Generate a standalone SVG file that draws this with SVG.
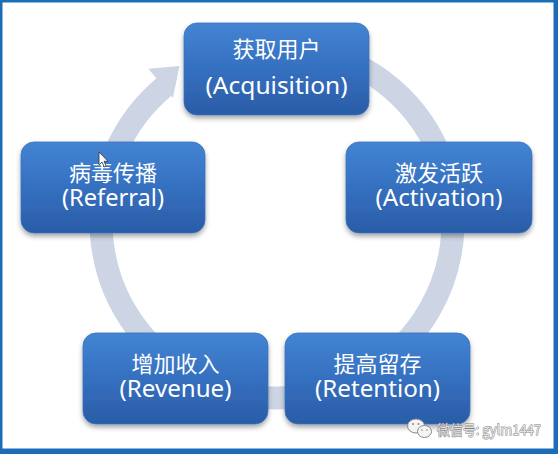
<svg xmlns="http://www.w3.org/2000/svg" width="558" height="454" viewBox="0 0 558 454">
  <defs>
    <linearGradient id="boxGrad" x1="0" y1="0" x2="0" y2="1">
      <stop offset="0" stop-color="#4384d3"/>
      <stop offset="0.5" stop-color="#3570c0"/>
      <stop offset="1" stop-color="#2a5ca6"/>
    </linearGradient>
    <filter id="shadow" x="-10%" y="-10%" width="120%" height="130%">
      <feDropShadow dx="0" dy="3" stdDeviation="2.5" flood-color="#000" flood-opacity="0.35"/>
    </filter>
  </defs>
  <style>
    .box { fill: url(#boxGrad); stroke: #3a72bd; stroke-width: 0.8; filter: url(#shadow); }
    .zh { font-family: "Noto Sans CJK SC", "Noto Sans", sans-serif; font-size: 22px; fill: #ffffff; text-anchor: middle; }
    .en { font-family: "Noto Sans", "Open Sans", "Noto Sans CJK SC", sans-serif; font-size: 23px; fill: #ffffff; text-anchor: middle; }
    .ring { fill: none; stroke: #cdd5e4; stroke-width: 23; }
    .head { fill: #cdd5e4; }
    .wm { font-family: "Noto Sans CJK SC", sans-serif; font-size: 14px; fill: #e6e6e6; stroke: #7d7d7d; stroke-width: 0.9; paint-order: stroke; }
  </style>

  <!-- frame -->
  <rect x="0" y="0" width="558" height="454" fill="#1c6cb8"/>
  <rect x="2.5" y="2.5" width="551" height="446" fill="#ffffff"/>

  <!-- connectors: circular arrow -->
  <g id="connectors">
    <path class="ring" d="M 216.8 56.6 A 176 176 0 1 1 165.05 86.2"/>
    <polygon class="head" points="148.4,68.8 179.5,66 172.9,97.9"/>
  </g>

  <g id="node-acquisition">
    <rect class="box" x="184" y="23" width="185" height="92" rx="13"/>
    <text class="zh" x="276.5" y="57">获取用户</text>
    <text class="en" x="276.5" y="94" textLength="142" lengthAdjust="spacingAndGlyphs">(Acquisition)</text>
  </g>

  <g id="node-activation">
    <rect class="box" x="346" y="142" width="186" height="91" rx="13"/>
    <text class="zh" x="439" y="181">激发活跃</text>
    <text class="en" x="439" y="206" textLength="127" lengthAdjust="spacingAndGlyphs">(Activation)</text>
  </g>

  <g id="node-retention">
    <rect class="box" x="285" y="333" width="185" height="91" rx="13"/>
    <text class="zh" x="377.5" y="372">提高留存</text>
    <text class="en" x="377.5" y="397" textLength="125" lengthAdjust="spacingAndGlyphs">(Retention)</text>
  </g>

  <g id="node-revenue">
    <rect class="box" x="83" y="333" width="185" height="91" rx="13"/>
    <text class="zh" x="175.5" y="372">增加收入</text>
    <text class="en" x="175.5" y="397" textLength="112" lengthAdjust="spacingAndGlyphs">(Revenue)</text>
  </g>

  <g id="node-referral">
    <rect class="box" x="21" y="142" width="184" height="91" rx="13"/>
    <text class="zh" x="113" y="181">病毒传播</text>
    <text class="en" x="113" y="206" textLength="102" lengthAdjust="spacingAndGlyphs">(Referral)</text>
  </g>

  <!-- mouse cursor -->
  <path d="M 99 152 L 99 165 L 102 162 L 104.3 167 L 106.2 166.1 L 104 161.3 L 108 161.3 Z" fill="#ffffff" stroke="#333333" stroke-width="0.8" stroke-linejoin="round"/>

  <!-- watermark -->
  <g id="watermark">
    <ellipse cx="416" cy="426" rx="8.5" ry="7" fill="#f4f4f4" stroke="#8a8a8a" stroke-width="1"/>
    <ellipse cx="424.5" cy="431.5" rx="7" ry="6" fill="#f4f4f4" stroke="#8a8a8a" stroke-width="1"/>
    <circle cx="413" cy="424" r="1" fill="#8a8a8a"/>
    <circle cx="418.5" cy="424" r="1" fill="#8a8a8a"/>
    <circle cx="422" cy="430" r="0.8" fill="#8a8a8a"/>
    <circle cx="427" cy="430" r="0.8" fill="#8a8a8a"/>
    <text class="wm" x="437" y="435" textLength="104" lengthAdjust="spacingAndGlyphs">微信号: gylm1447</text>
  </g>
</svg>
